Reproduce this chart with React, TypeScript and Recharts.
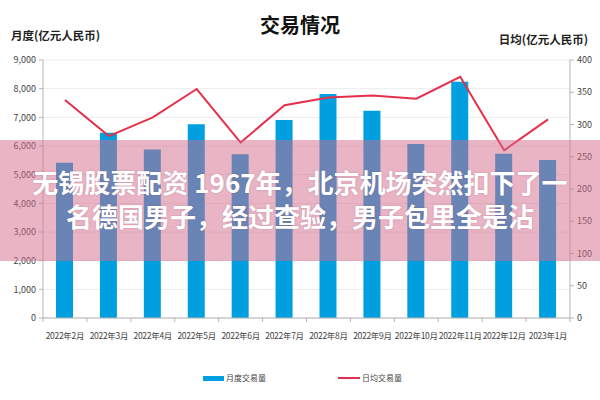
import React from "react";
import {
  Bar,
  CartesianGrid,
  ComposedChart,
  Line,
  XAxis,
  YAxis,
} from "recharts";

// 月份
const months = [
  "2022年2月",
  "2022年3月",
  "2022年4月",
  "2022年5月",
  "2022年6月",
  "2022年7月",
  "2022年8月",
  "2022年9月",
  "2022年10月",
  "2022年11月",
  "2022年12月",
  "2023年1月",
];

// 月度交易量 (亿元人民币)
const monthlyVolume = [5420, 6460, 5880, 6760, 5710, 6910, 7810, 7230, 6070, 8240, 5730, 5510];

// 日均交易量 (亿元人民币)
const dailyAverage = [338, 282, 311, 355, 272, 330, 342, 345, 340, 374, 260, 308];

const leftTicks = [0, 1000, 2000, 3000, 4000, 5000, 6000, 7000, 8000, 9000];
const rightTicks = [0, 50, 100, 150, 200, 250, 300, 350, 400];

const data = months.map((m, i) => ({
  month: m,
  monthly: monthlyVolume[i],
  daily: dailyAverage[i],
}));

const FONT = '"Noto Sans CJK SC", "Noto Sans", sans-serif';
const BLUE = "#009fdf";
const RED = "#e5304b";
const AXIS = "#b5b5b5";

const MonthTick = (props: any) => {
  const { x, y, payload, width } = props;
  const bw = width ? width / months.length : 43.9;
  const isLast = payload.index === months.length - 1;
  return (
    <g>
      <line x1={x - bw / 2} x2={x - bw / 2} y1={y} y2={y + 4} stroke={AXIS} />
      {isLast && (
        <line x1={x + bw / 2} x2={x + bw / 2} y1={y} y2={y + 4} stroke={AXIS} />
      )}
      <text
        x={x}
        y={y + 21}
        textAnchor="middle"
        fontSize={8.5}
        letterSpacing={-0.3}
        fill="#444"
        fontFamily={FONT}
      >
        {payload.value}
      </text>
    </g>
  );
};

export default function App() {
  return (
    <div
      style={{
        position: "absolute",
        left: 0,
        top: 0,
        width: 600,
        height: 400,
        background: "#fff",
        fontFamily: FONT,
        overflow: "hidden",
      }}
    >
      <div
        style={{
          position: "absolute",
          left: 0,
          width: 600,
          top: 12,
          textAlign: "center",
          fontSize: 20,
          fontWeight: 700,
          color: "#111",
          lineHeight: "26px",
        }}
      >
        交易情况
      </div>
      <div
        style={{
          position: "absolute",
          left: 11,
          top: 27,
          fontSize: 11.5,
          fontWeight: 700,
          color: "#222",
          lineHeight: "16px",
        }}
      >
        月度(亿元人民币)
      </div>
      <div
        style={{
          position: "absolute",
          right: 12,
          top: 31,
          fontSize: 11.5,
          fontWeight: 700,
          color: "#222",
          lineHeight: "16px",
        }}
      >
        日均(亿元人民币)
      </div>

      <ComposedChart
        width={600}
        height={400}
        data={data}
        margin={{ top: 60, right: 0, left: 0, bottom: 52 }}
        style={{ position: "absolute", left: 0, top: 0 }}
      >
        <CartesianGrid yAxisId="left" vertical={false} stroke="#ececec" />
        <XAxis
          dataKey="month"
          height={30}
          stroke={AXIS}
          tickLine={false}
          tickSize={0}
          tickMargin={0}
          interval={0}
          tick={<MonthTick />}
        />
        <YAxis
          yAxisId="left"
          width={43}
          domain={[0, 9000]}
          ticks={leftTicks}
          stroke={AXIS}
          tickSize={4}
          tickMargin={3}
          tick={{ fontSize: 9, fill: "#444", fontFamily: FONT }}
          tickFormatter={(v: number) => v.toLocaleString("en-US")}
        />
        <YAxis
          yAxisId="right"
          orientation="right"
          width={30}
          domain={[0, 400]}
          ticks={rightTicks}
          stroke={AXIS}
          tickSize={4}
          tickMargin={3}
          tick={{ fontSize: 9, fill: "#444", fontFamily: FONT }}
        />
        <Bar
          yAxisId="left"
          dataKey="monthly"
          fill={BLUE}
          barSize={17}
          isAnimationActive={false}
        />
        <Line
          yAxisId="right"
          dataKey="daily"
          stroke={RED}
          strokeWidth={2}
          dot={false}
          type="linear"
          isAnimationActive={false}
        />
      </ComposedChart>

      {/* legend */}
      <div
        style={{
          position: "absolute",
          left: 203,
          top: 376,
          width: 21,
          height: 5,
          background: BLUE,
        }}
      />
      <div
        style={{
          position: "absolute",
          left: 226,
          top: 372,
          fontSize: 8,
          color: "#444",
          lineHeight: "12px",
        }}
      >
        月度交易量
      </div>
      <div
        style={{
          position: "absolute",
          left: 338,
          top: 377,
          width: 22,
          height: 2,
          background: RED,
        }}
      />
      <div
        style={{
          position: "absolute",
          left: 362,
          top: 372,
          fontSize: 8,
          color: "#444",
          lineHeight: "12px",
        }}
      >
        日均交易量
      </div>

      {/* overlay banner */}
      <div
        style={{
          position: "absolute",
          left: 0,
          top: 140,
          width: 600,
          height: 121,
          background: "rgba(211,107,139,0.5)",
          pointerEvents: "none",
        }}
      />
      <div
        style={{
          position: "absolute",
          left: 0,
          top: 165,
          width: 600,
          textAlign: "center",
          color: "#fff",
          fontSize: 26,
          fontWeight: 700,
          lineHeight: "34px",
          textShadow: "0 0 2px rgba(120,40,70,0.3)",
          pointerEvents: "none",
        }}
      >
        <div>无锡股票配资 1967年，北京机场突然扣下了一</div>
        <div>名德国男子，经过查验，男子包里全是沾</div>
      </div>
    </div>
  );
}
